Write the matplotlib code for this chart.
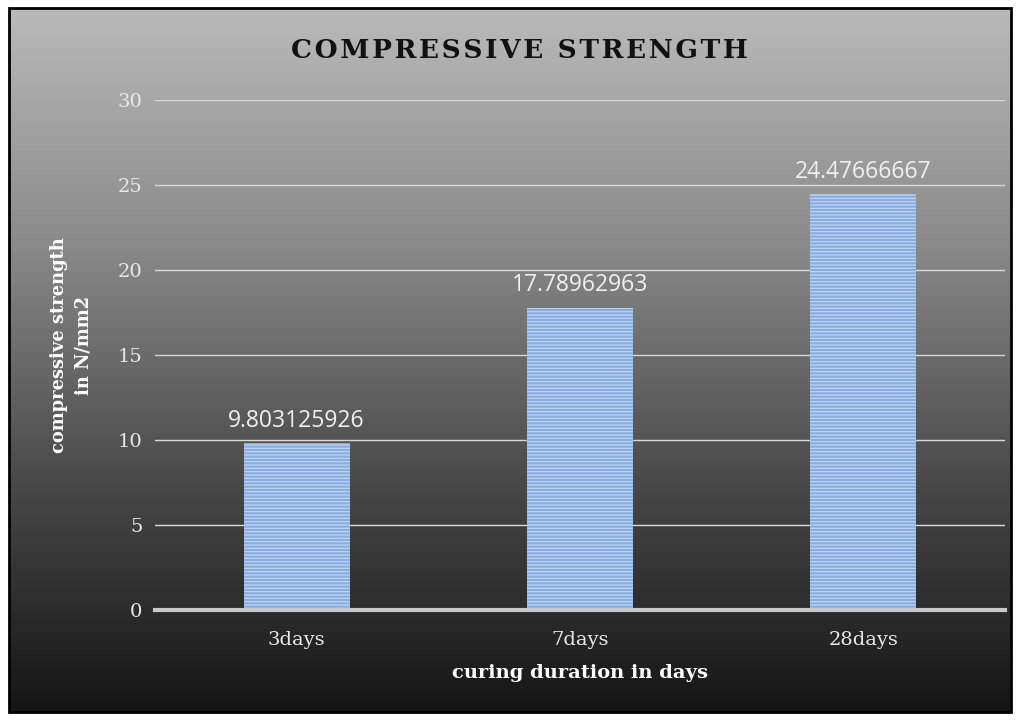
import numpy as np
import matplotlib
matplotlib.use("Agg")
import matplotlib.pyplot as plt
from matplotlib.patches import Rectangle
from matplotlib.colors import LinearSegmentedColormap

categories = ["3days", "7days", "28days"]
values = [9.803125926, 17.78962963, 24.47666667]
value_labels = ["9.803125926", "17.78962963", "24.47666667"]
yticks = [0, 5, 10, 15, 20, 25, 30]

W, H, DPI = 1021, 720, 100
plt.rcParams["hatch.color"] = "#c0d5f0"
plt.rcParams["hatch.linewidth"] = 0.9
fig = plt.figure(figsize=(W / DPI, H / DPI), dpi=DPI)
fig.patch.set_facecolor("white")

# background gradient inside border
L, B, R, T = 9 / W, 8 / H, 1011 / W, 712 / H
bg = fig.add_axes([L, B, R - L, T - B])
grad = np.linspace(0, 1, 256).reshape(-1, 1)
cmap = LinearSegmentedColormap.from_list("g", ["#bababa", "#8a8a8a", "#4a4a4a", "#151515"])
bg.imshow(grad, aspect="auto", cmap=cmap, extent=[0, 1, 0, 1], origin="upper")
bg.set_axis_off()
fig.add_artist(Rectangle((L, B), R - L, T - B, transform=fig.transFigure,
                         fill=False, edgecolor="black", linewidth=2, zorder=10))

SERIF = "DejaVu Serif"
ax = fig.add_axes([155 / W, (H - 610) / H, 850 / W, 510 / H])
ax.patch.set_alpha(0)
x = np.arange(len(categories))
bars = ax.bar(x, values, width=0.373, color="#86ace0", edgecolor="#c0d5f0",
              linewidth=0, hatch="-----", zorder=3)

ax.set_xlim(-0.5, 2.5)
ax.set_ylim(0, 30)
ax.set_yticks(yticks)
ax.yaxis.grid(True, color="#d9d9d9", linewidth=1, zorder=0)
ax.set_axisbelow(True)
for s in ["top", "right", "left"]:
    ax.spines[s].set_visible(False)
ax.spines["bottom"].set_color("#c8c8c8")
ax.spines["bottom"].set_linewidth(3)
ax.spines["bottom"].set_zorder(4)
ax.tick_params(axis="both", length=0, colors="#e8e8e8", labelsize=14)
ax.tick_params(axis="x", pad=15)
ax.tick_params(axis="y", pad=9)
ax.set_xticks(x)
ax.set_xticklabels(categories)
for lab in ax.get_xticklabels() + ax.get_yticklabels():
    lab.set_fontfamily(SERIF)

for xi, v, s in zip(x, values, value_labels):
    ax.text(xi, v + 0.6, s, ha="center", va="bottom", fontsize=16.5,
            color="#f0f0f0", family="Open Sans")

ax.set_xlabel("curing duration in days", fontsize=14, fontweight="bold",
              color="white", family=SERIF, labelpad=11)
fig.text(71 / W, (H - 345) / H, "compressive strength\nin N/mm2", rotation=90,
         ha="center", va="center", fontsize=12.9, fontweight="bold",
         color="white", family=SERIF, linespacing=1.5)

title = "\u200a".join("COMPRESSIVE STRENGTH")
fig.text(519 / W, (H - 50) / H, title,
         ha="center", va="center", fontsize=19, fontweight="bold",
         color="#111111", family=[SERIF, "DejaVu Sans"])

fig.savefig("out.png", dpi=DPI)
